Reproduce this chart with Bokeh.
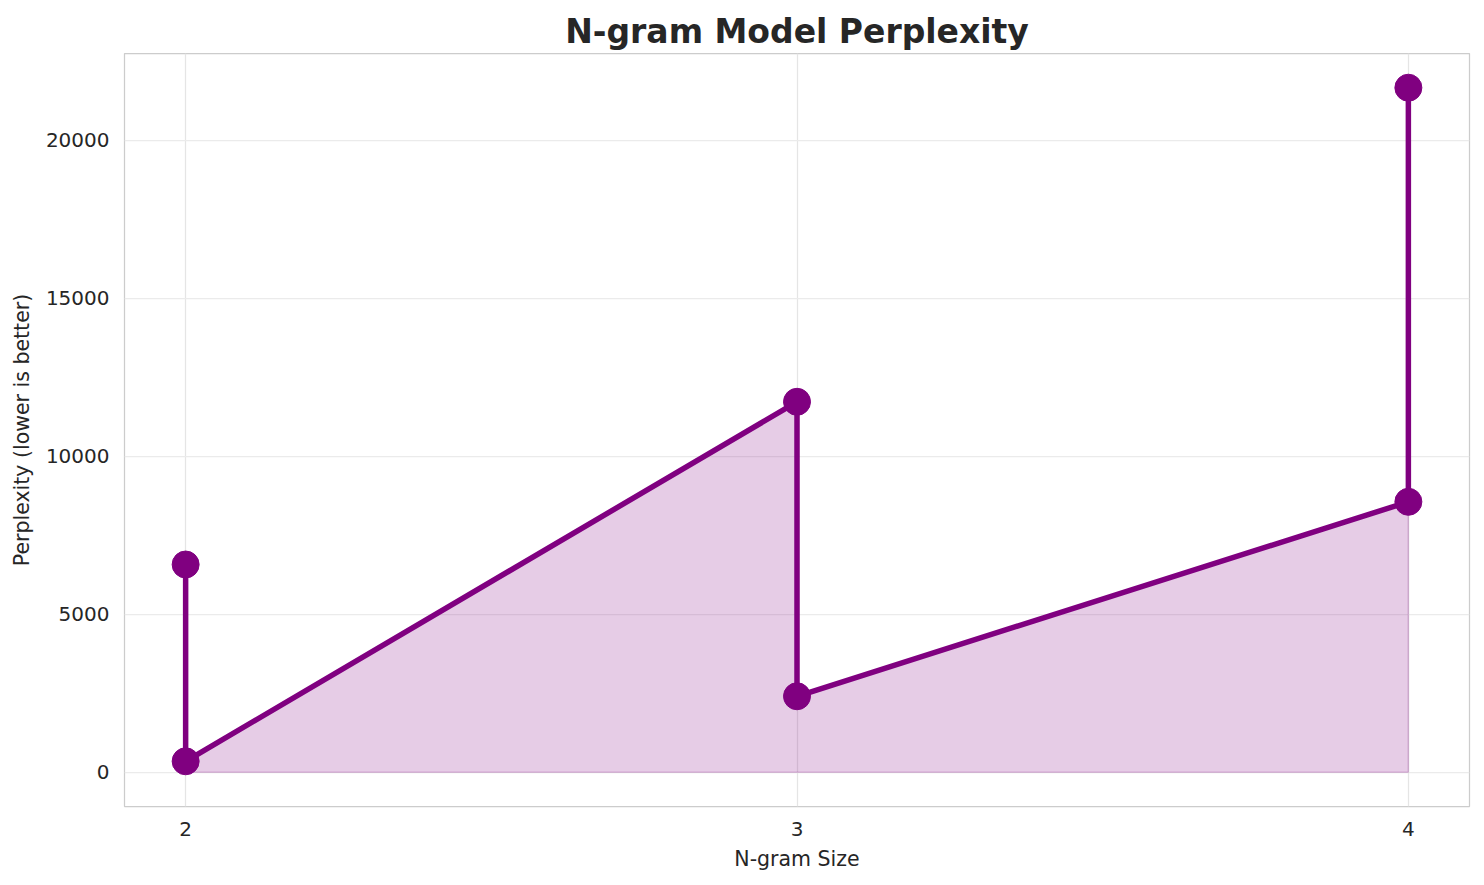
from bokeh.plotting import figure
from bokeh.models import FixedTicker, Range1d
from bokeh.embed import file_html
from bokeh.resources import INLINE

# Data
ngram_size = [2, 2, 3, 3, 4, 4]
perplexity = [6573, 348, 11721, 2405, 8557, 21658]
x_ticks = [2, 3, 4]
y_ticks = [0, 5000, 10000, 15000, 20000]

FONT = "DejaVu Sans"
TXT = "#262626"
PURPLE = "purple"

p = figure(width=1484, height=885, output_backend="svg", toolbar_location=None,
           x_range=Range1d(1.9, 4.1), y_range=Range1d(-1083, 22741),
           min_border_left=124, min_border_right=15, min_border_top=53, min_border_bottom=79)

p.title.text = "N-gram Model Perplexity"
p.title.align = "center"
p.title.text_font = FONT
p.title.text_font_size = "33px"
p.title.text_font_style = "bold"
p.title.text_color = TXT
p.title.standoff = 6

# fill under the line (fill_between to zero)
fx = list(ngram_size) + list(reversed(ngram_size))
fy = list(perplexity) + [0] * len(perplexity)
p.patch(fx, fy, fill_color=PURPLE, fill_alpha=0.2, line_color=PURPLE, line_alpha=0.2, line_width=1.5)

p.line(ngram_size, perplexity, line_color=PURPLE, line_width=5.5)
p.scatter(ngram_size, perplexity, size=27, fill_color=PURPLE, line_color=PURPLE)

p.xaxis.ticker = FixedTicker(ticks=x_ticks)
p.yaxis.ticker = FixedTicker(ticks=y_ticks)
p.xaxis.axis_label = "N-gram Size"
p.yaxis.axis_label = "Perplexity (lower is better)"

for ax in (p.xaxis[0], p.yaxis[0]):
    ax.axis_line_color = None
    ax.major_tick_line_color = None
    ax.minor_tick_line_color = None
    ax.major_tick_out = 0
    ax.major_tick_in = 0
    ax.minor_tick_out = 0
    ax.major_label_text_font = FONT
    ax.major_label_text_font_size = "20px"
    ax.major_label_text_color = TXT
    ax.axis_label_text_font = FONT
    ax.axis_label_text_font_size = "20.5px"
    ax.axis_label_text_font_style = "normal"
    ax.axis_label_text_color = TXT

p.xaxis.major_label_standoff = 15
p.xaxis.axis_label_standoff = 8
p.yaxis.major_label_standoff = 15
p.yaxis.axis_label_standoff = 9

p.xgrid.grid_line_color = "#e5e5e5"
p.ygrid.grid_line_color = "#ebebeb"
p.xgrid.grid_line_width = 1.25
p.ygrid.grid_line_width = 1.25

p.outline_line_color = "#cccccc"
p.outline_line_width = 1.25
p.background_fill_color = "white"
p.border_fill_color = "white"

open("out.html", "w").write(file_html(p, INLINE))
